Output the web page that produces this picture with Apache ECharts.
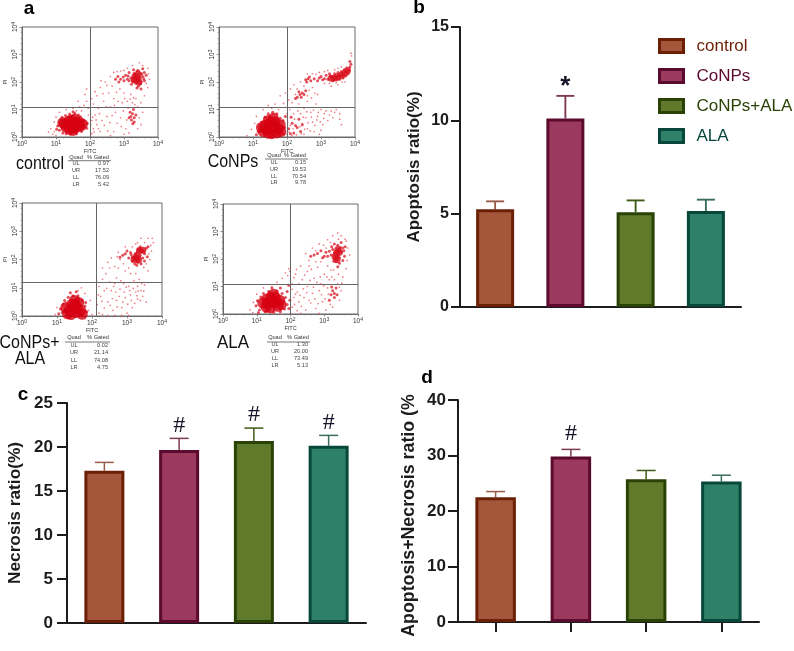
<!DOCTYPE html>
<html><head><meta charset="utf-8">
<script src="https://cdn.jsdelivr.net/npm/echarts@6/dist/echarts.min.js"></script>
<style>html,body{margin:0;padding:0;background:#fff}#c{width:794px;height:651px}</style>
</head><body><div id="c"></div>
<script>
// ---- bar chart data ----
const groups = ['control','CoNPs','CoNPs+ALA','ALA'];
const apoptosis = [5.23,10.1,5.07,5.14];
const apoptosisErr = [5.66,11.31,5.71,5.75];
const apoptosisMark = ['','*','',''];
const necrosis = [17.3,19.65,20.67,20.14];
const necrosisErr = [18.25,20.98,22.15,21.32];
const necrosisMark = ['','#','#','#'];
const both = [22.5,29.8,25.7,25.3];
const bothErr = [23.5,31.1,27.3,26.45];
const bothMark = ['','#','',''];
const fills = ['#a4573a','#9c395e','#5f7a2b','#2f8068'];
const borders = ['#6b1f05','#5c0a2e','#2a4204','#07483a'];
const errColors = ['#9a5a48','#7d3a52','#3e5a14','#3a6d5c'];
// ---- flow tables ----
const quads = ['UL','UR','LL','LR'];
const tableControl = ['0.97','17.52','76.09','5.42'];
const tableCoNPs = ['0.15','19.53','70.54','9.78'];
const tableCoNPsALA = ['0.02','21.14','74.08','4.75'];
const tableALA = ['1.30','20.00','73.49','5.13'];
// ---- flow gates (decades: FITC, PI) ----
const gateControl = [2.0,1.09];
const gateCoNPs = [2.0,1.09];
const gateCoNPsALA = [2.11,1.2];
const gateALA = [1.99,1.09];
// ---- flow events, in decades [FITC, PI] ----
const controlCore = [[1.49,.48],[1.35,.45],[1.6,.5],[1.5,.32],[1.45,.62],[1.3,.35],[1.62,.36],[1.55,.65],[1.38,.58],[1.68,.55],[1.25,.46],[1.5,.24],[1.7,.4],[1.4,.28],[1.2,.52],[1.78,.47]];
const controlHot = [[3.38,2.12],[3.44,2.0],[3.32,2.2],[3.42,2.28],[3.3,2.08]];
const controlMid = [[1.05,.4],[1.1,.25],[1.12,.55],[1.18,.72],[1.2,.15],[1.28,.78],[1.3,.12],[1.4,.84],[1.42,.1],[1.55,.86],[1.6,.12],[1.72,.74],[1.75,.2],[1.82,.58],[1.84,.4],[1.8,.28],[1.92,.5],[1.15,.64],[1.02,.28],[1.5,.92],[1.66,.8],[1.9,.32],
[3.4,2.1],[3.3,2.2],[3.45,2.3],[3.5,2.0],[3.35,1.95],[3.25,2.05],[3.55,2.2],[3.42,1.85],[3.38,2.4],[3.6,2.35],[3.2,2.15],[3.5,1.75],[3.3,2.32],[3.4,1.98],[3.48,2.15],[3.15,2.05],[3.6,2.05],[3.1,2.1],[3.0,2.05],[2.9,2.1],[2.85,2.0],[3.05,2.25],[3.15,2.35],[2.75,2.1],[3.65,2.25],[3.36,2.12],[3.44,2.05],[3.28,2.0],[3.33,2.28],[3.42,2.42],[3.52,2.3],[3.47,1.92],[3.38,1.78],[3.55,2.48],[3.28,2.45],[3.22,1.92],[3.36,2.05],[3.45,2.18],[3.32,2.12],[3.58,2.12],[3.12,2.22],[2.98,2.18],[2.82,2.2],
[3.25,.85],[3.3,.7],[3.2,.75],[3.28,1.0],[3.15,.7],[3.3,.55],[3.18,.9],[3.35,.8],[3.22,.62],[3.26,.48]];
const controlSparse = [[.85,.3],[.9,.1],[.95,.55],[1.0,.72],[.78,.18],[1.1,.9],[1.3,1.0],[1.5,1.05],[1.7,1.1],[1.75,.95],[1.9,1.3],[1.85,1.55],[1.95,1.05],[1.95,.8],[2.05,.6],[2.1,.3],[2.05,.12],[2.15,.8],[2.2,.45],[2.3,.2],[2.35,.6],[2.1,1.2],[2.2,1.5],[2.3,1.8],[2.4,1.3],[2.45,2.0],[2.55,1.6],[2.6,2.2],[2.6,1.1],[2.7,1.4],[2.75,.9],[2.8,.5],[2.7,.2],[2.9,.7],[2.95,1.25],[3.0,1.6],[3.05,.3],[3.1,1.3],[3.2,1.55],[3.25,1.25],[3.35,1.4],[3.4,1.1],[3.45,.7],[3.4,.3],[3.55,.9],[3.6,1.5],[3.7,1.8],[3.7,2.5],[3.55,2.6],[3.45,2.7],[3.25,2.6],[3.1,2.5],[2.9,2.4],[2.7,2.35],[3.75,2.1],[3.65,1.95],[2.5,.75],[2.25,1.05],[3.0,.1],[2.6,.05],[3.15,.15],
[2.02,.45],[2.08,.72],[2.12,.18],[2.18,.62],[2.25,.3],[2.28,.85],[2.42,.42],[2.48,1.1],[2.52,.22],[2.58,.52],[2.65,.78],[2.72,1.15],[2.78,1.62],[2.82,1.3],[2.88,1.75],[2.92,.38],[2.98,.95],[3.02,1.4],[3.08,.62],[3.12,1.05],[3.18,1.38],[3.28,1.42],[3.32,1.18],[3.5,1.25],[3.5,.45],[2.15,1.65],[2.05,1.4],[1.9,1.75],[1.65,1.3],[2.38,1.58],[2.5,1.88],[2.65,1.85],[2.8,2.38],[3.0,2.42],[3.72,2.3],[2.32,2.05],[1.82,1.15],[1.6,.95],[.95,.2],[1.0,.05]];

const conpsCore = [[1.58,.33],[1.4,.28],[1.75,.3],[1.5,.5],[1.65,.55],[1.3,.2],[1.55,.12],[1.8,.45],[1.35,.42],[1.7,.15],[1.45,.14],[1.6,.68],[1.25,.35],[1.45,.6],[1.82,.2]];
const conpsHot = [[3.4,2.15],[3.5,2.2],[3.6,2.25],[3.7,2.32],[3.3,2.14],[3.78,2.42]];
const conpsMid = [[1.15,.2],[1.2,.38],[1.25,.55],[1.1,.08],[1.35,.72],[1.8,.68],[1.88,.6],[1.93,.35],[1.9,.12],[1.45,.85],[1.7,.85],[2.05,.3],[2.15,.5],[2.2,.15],[2.3,.35],[2.35,.65],[2.4,.2],[1.58,.9],[1.95,.75],[2.1,.12],[2.25,.42],[2.45,.45],[2.12,.72],
[3.46,2.19],[3.3,2.15],[3.6,2.25],[3.7,2.35],[3.78,2.45],[3.85,2.55],[3.2,2.1],[3.4,2.3],[3.55,2.1],[3.1,2.12],[3.0,2.2],[3.5,2.35],[3.65,2.15],[3.8,2.3],[2.55,2.08],[2.62,2.12],[2.7,2.05],[2.8,2.12],[2.9,2.05],[3.25,2.3],[3.35,2.05],[3.85,2.75],[3.38,2.18],[3.52,2.22],[3.42,2.1],[3.6,2.38],[3.72,2.22],[3.82,2.42],[3.15,2.25],[3.05,2.08],[2.95,2.15],[2.58,2.0],[2.66,2.18],[3.28,2.22],[3.48,2.08],[3.68,2.45],[3.88,2.65],
[2.38,1.55],[2.45,1.6],[2.3,1.45],[2.5,1.55],[2.35,1.65],[2.55,1.68],[2.25,1.4],[2.42,1.45]];
const conpsSparse = [[.82,.05],[.95,.28],[1.05,.5],[1.1,.75],[1.3,1.0],[1.55,1.05],[1.75,1.0],[1.8,1.5],[1.95,1.6],[2.0,.85],[2.08,1.0],[2.15,1.25],[2.2,.85],[2.25,1.55],[2.3,1.75],[2.35,1.2],[2.4,.85],[2.45,.5],[2.5,1.05],[2.55,.7],[2.6,1.3],[2.6,.3],[2.65,1.7],[2.7,.9],[2.75,.55],[2.8,.2],[2.85,1.2],[2.9,.75],[3.0,1.0],[3.05,.45],[3.1,.85],[3.2,.6],[3.3,.95],[3.4,.9],[3.55,.85],[3.6,.45],[3.7,2.0],[3.5,1.9],[3.3,1.85],[3.1,1.95],[2.95,2.35],[2.75,2.3],[2.6,2.3],[3.6,2.55],[3.9,2.95],[3.88,3.05],[2.2,1.9],[2.1,1.75],[2.4,2.0],[2.5,1.85],[2.75,1.8],[2.9,1.55],[1.45,1.15],[1.65,1.2],[2.0,.1],[2.5,.1],[2.95,.1],[2.15,.05],[3.0,.25],
[2.02,.55],[2.06,.18],[2.1,.42],[2.18,.3],[2.22,.65],[2.28,.08],[2.32,.95],[2.38,.38],[2.42,.12],[2.48,.72],[2.52,.28],[2.58,.92],[2.62,.52],[2.68,.22],[2.72,.72],[2.78,.98],[2.82,.42],[2.88,.62],[2.92,.9],[2.98,.55],[3.08,.68],[3.15,.95],[3.25,.8],[3.35,.7],[3.45,1.0],[3.55,.65],[2.6,1.5],[2.72,1.42],[2.82,1.6],[3.2,2.42],[3.4,2.45],[3.5,2.5],[3.1,2.38],[2.85,2.28],[3.25,1.95],[3.45,1.98],[3.62,2.0],[3.75,2.55],[2.05,1.35],[1.9,1.22]];

const caCore = [[1.47,.26],[1.35,.2],[1.58,.3],[1.42,.42],[1.55,.12],[1.3,.08],[1.62,.48],[1.5,.55],[1.4,.05],[1.68,.2],[1.25,.3],[1.72,.06],[1.52,.4]];
const caHot = [[3.27,2.05],[3.2,2.0],[3.33,1.98],[3.36,2.32],[3.45,2.33],[3.28,2.14]];
const caMid = [[1.05,.08],[1.1,.25],[1.18,.42],[1.22,.55],[1.32,.66],[1.45,.72],[1.6,.72],[1.72,.55],[1.8,.35],[1.85,.15],[1.72,.02],[1.15,.12],[1.38,.82],[1.55,.86],[1.82,.48],
[3.27,2.05],[3.2,2.0],[3.3,1.9],[3.36,2.32],[3.45,2.33],[3.3,2.3],[3.25,2.2],[3.38,2.15],[3.15,2.1],[3.1,2.25],[3.45,2.05],[3.5,2.2],[3.4,1.85],[3.22,1.85],[3.55,2.4],[3.15,1.95],[3.05,2.05],[3.0,2.3],[2.95,2.2],[3.6,2.45],[3.33,1.98],[3.5,1.95],[3.38,2.45],[3.24,2.1],[3.3,2.02],[3.18,2.05],[3.42,2.28],[3.32,2.38],[3.28,1.8],[3.36,2.08],[3.48,2.28],[3.12,2.18],[2.88,2.15],[2.8,2.08],[3.58,2.1]];
const caSparse = [[.95,.05],[1.0,.3],[1.6,.9],[1.7,1.0],[1.8,.8],[1.95,.55],[1.9,.2],[2.0,.05],[2.2,.1],[2.15,.4],[2.25,.7],[2.2,1.05],[2.3,1.3],[2.35,.9],[2.3,.05],[2.45,.5],[2.5,1.2],[2.4,1.5],[2.5,1.7],[2.6,.2],[2.55,.9],[2.65,.02],[2.7,.55],[2.7,1.35],[2.75,1.7],[2.8,2.0],[2.8,.95],[2.85,.3],[2.9,1.15],[2.95,.65],[2.95,1.6],[3.0,.1],[3.05,1.05],[3.1,.75],[3.15,.3],[3.2,1.25],[3.25,.85],[3.3,.6],[3.3,1.05],[3.4,.9],[3.45,.7],[3.5,1.1],[3.55,.5],[3.6,1.6],[3.65,2.0],[3.7,2.3],[3.75,2.6],[3.72,2.75],[3.6,2.75],[3.4,2.75],[3.25,2.55],[2.75,2.25],[2.55,2.05],[2.45,1.9],[2.65,1.15],[3.1,1.5],[3.55,1.85],[2.85,.02],[3.05,.02],[2.45,.02],
[2.18,.75],[2.28,.52],[2.35,.28],[2.42,.98],[2.52,.38],[2.58,.62],[2.62,1.05],[2.68,.85],[2.72,.32],[2.78,.7],[2.82,1.25],[2.88,.5],[2.92,.85],[2.98,1.02],[3.02,.42],[3.08,.9],[3.12,.55],[3.18,.98],[3.22,.45],[3.28,.72],[3.32,.88],[3.38,.55],[3.42,1.15],[3.48,.88],[3.35,1.3],[3.25,1.5],[2.65,1.75],[2.9,1.85],[2.72,2.1],[3.05,1.7],[3.48,1.72],[3.62,2.2],[3.68,2.5],[3.5,2.6],[3.3,2.6],[3.15,2.45],[2.95,2.45],[2.3,1.7]];

const alaCore = [[1.44,.45],[1.3,.38],[1.55,.42],[1.42,.62],[1.55,.6],[1.28,.25],[1.4,.22],[1.62,.28],[1.68,.5],[1.18,.4],[1.5,.72],[1.3,.55],[1.72,.34]];
const alaHot = [[3.36,2.2],[3.4,2.35],[3.32,2.08],[3.45,2.25],[3.38,1.98]];
const alaMid = [[.98,.3],[1.02,.48],[1.08,.15],[1.12,.62],[1.2,.75],[1.35,.82],[1.6,.84],[1.75,.75],[1.85,.6],[1.9,.35],[1.82,.18],[1.7,.08],[1.5,.06],[1.25,.08],[1.9,.82],[1.95,1.05],[1.45,.95],[1.7,.95],[1.05,.05],[1.98,.5],[1.95,.2],
[3.36,2.2],[3.3,2.05],[3.4,2.35],[3.5,2.25],[3.45,2.05],[3.2,2.15],[3.35,1.9],[3.45,1.85],[3.55,2.4],[3.25,2.35],[3.1,2.1],[3.4,2.5],[3.3,2.55],[3.0,2.1],[2.9,2.3],[2.8,2.2],[3.6,2.1],[2.7,2.15],[3.55,1.95],[2.6,2.1],[3.32,2.25],[3.42,2.12],[3.48,2.42],[3.38,1.98],[3.28,1.92],[3.22,2.45],[3.15,2.28],[3.58,2.3],[3.5,2.6],[3.05,2.25],[2.95,2.05],[3.4,1.72],[3.62,2.45],
[3.2,.7],[3.25,.85],[3.3,.6],[3.35,.95],[3.15,.5],[3.3,.75],[3.38,.7],[3.22,.98]];
const alaSparse = [[.8,.15],[.88,.05],[.9,.42],[1.0,.72],[1.2,.95],[1.45,1.0],[1.6,1.15],[1.75,1.3],[1.85,1.5],[1.95,1.65],[2.0,1.2],[2.05,.9],[2.1,.6],[2.05,.25],[2.0,.02],[2.2,.12],[2.25,.45],[2.2,.8],[2.25,1.1],[2.15,1.45],[2.3,1.75],[2.35,1.25],[2.4,.6],[2.45,.15],[2.5,1.0],[2.5,1.55],[2.55,1.95],[2.6,.4],[2.65,.75],[2.7,1.3],[2.75,.2],[2.8,1.7],[2.85,.85],[2.9,1.1],[2.95,.45],[3.0,1.45],[3.05,.15],[3.1,.95],[3.15,1.25],[3.2,1.6],[3.3,1.25],[3.4,1.1],[3.45,.5],[3.5,.85],[3.55,1.35],[3.65,1.65],[3.7,2.4],[3.75,2.15],[3.65,2.65],[3.5,2.85],[3.25,2.85],[3.1,2.7],[3.4,2.95],[3.05,2.4],[2.85,2.55],[2.65,2.4],[2.45,2.2],[2.9,1.9],[2.3,.02],[2.85,.02],[3.25,.25],
[1.92,1.4],[1.98,1.55],[2.05,1.1],[2.1,1.32],[2.12,.35],[2.15,.72],[2.18,1.62],[2.28,.68],[2.32,.28],[2.38,.92],[2.42,1.42],[2.48,.78],[2.55,.5],[2.58,1.22],[2.62,1.62],[2.68,.98],[2.72,.55],[2.78,1.15],[2.82,.38],[2.88,1.35],[2.92,.7],[2.98,1.02],[3.02,.55],[3.08,1.35],[3.12,.72],[3.18,.35],[3.22,1.35],[3.45,.98],[3.52,1.12],[3.42,1.45],[3.28,1.6],[3.1,1.75],[2.75,1.9],[2.55,1.75],[2.75,2.3],[2.98,2.5],[3.18,2.6],[3.68,1.95],[3.62,2.72],[3.42,2.72]];

// ---- layout ----
const flowPanels = [
  {name:'control',box:[22,27,136,110],gate:gateControl,core:controlCore,hot:controlHot,mid:controlMid,sparse:controlSparse},
  {name:'CoNPs',box:[219,27,136,110],gate:gateCoNPs,core:conpsCore,hot:conpsHot,mid:conpsMid,sparse:conpsSparse},
  {name:'CoNPs+ALA',box:[22,203,140,113],gate:gateCoNPsALA,core:caCore,hot:caHot,mid:caMid,sparse:caSparse},
  {name:'ALA',box:[223,204,135,110],gate:gateALA,core:alaCore,hot:alaHot,mid:alaMid,sparse:alaSparse}
];
const barPanels = [
  {box:[460,27,281,280],max:15,interval:5,vals:apoptosis,errs:apoptosisErr,marks:apoptosisMark,barW:38,cap:9,fs:16,tick:9,lm:11,ticksX:false,
   title:'Apoptosis ratio(%)',gap:37,tfs:17,tpad:0,markFont:'bold 26px "Liberation Sans"',markOff:9,lw:2.5},
  {box:[67,403,299,220],max:25,interval:5,vals:necrosis,errs:necrosisErr,marks:necrosisMark,barW:40,cap:9.5,fs:17,tick:10,lm:14,ticksX:false,
   title:'Necrosis ratio(%)',gap:43,tfs:17.3,tpad:0,markFont:'24px "Liberation Serif"',markOff:13,lw:2},
  {box:[458,400,301,222],max:40,interval:10,vals:both,errs:bothErr,marks:bothMark,barW:40.5,cap:9.5,fs:17,tick:10,lm:12,ticksX:true,
   title:'Apoptosis+Necrosis ratio (%',gap:40,tfs:17.8,tpad:9,markFont:'24px "Liberation Serif"',markOff:16,lw:2}
];
const grids=[],xAxes=[],yAxes=[],series=[];
const ink='#1c1c1c';
const sup=(v)=>'{b|10}{s|'+v+'}';
const richFlow={b:{fontSize:6.5,fontFamily:'Liberation Sans',color:'#333'},s:{fontSize:5,fontFamily:'Liberation Sans',color:'#333',verticalAlign:'top',padding:[0,0,3,0]}};
flowPanels.forEach(p=>{
  const i=grids.length;
  grids.push({left:p.box[0],top:p.box[1],width:p.box[2],height:p.box[3],show:true,borderColor:'#6a6a6a',borderWidth:1,backgroundColor:'transparent'});
  const ax=(name,extra)=>Object.assign({type:'value',gridIndex:i,min:0,max:4,interval:1,splitLine:{show:false},
    axisLine:{show:true,lineStyle:{color:'#6a6a6a',width:1}},axisTick:{show:true,length:2.5,lineStyle:{color:'#666',width:.7}},
    minorTick:{show:true,splitNumber:5,length:1.5,lineStyle:{color:'#777',width:.5}},
    name:name,nameLocation:'middle',nameTextStyle:{fontSize:5.5,color:'#333',fontFamily:'Liberation Sans'}},extra);
  xAxes.push(ax('FITC',{nameGap:11,axisLabel:{formatter:sup,rich:richFlow,margin:3}}));
  yAxes.push(ax('PI',{nameGap:14,axisLabel:{formatter:sup,rich:richFlow,margin:3,rotate:90}}));
  const lay=(data,size,color,z)=>({type:'scatter',xAxisIndex:i,yAxisIndex:i,data:data,symbolSize:size,itemStyle:{color:color},silent:true,z:z,animation:false});
  series.push(Object.assign(lay(p.sparse,1.7,'#ec5a63',2),{markLine:{silent:true,symbol:'none',animation:false,label:{show:false},
    lineStyle:{color:'#666',width:1,type:'solid'},data:[{xAxis:p.gate[0]},{yAxis:p.gate[1]}]}}));
  series.push(lay(p.mid,3,'#dc2330',3));
  series.push(lay(p.hot,7,'#d8101e',3));
  series.push(lay(p.core,11,'#d60012',4));
});
barPanels.forEach((p,pi)=>{
  const i=grids.length;
  grids.push({left:p.box[0],top:p.box[1],width:p.box[2],height:p.box[3]});
  xAxes.push({type:'category',gridIndex:i,data:groups,axisLabel:{show:false},
    axisLine:{show:true,lineStyle:{color:ink,width:2}},
    axisTick:{show:p.ticksX,alignWithLabel:true,interval:0,length:10,lineStyle:{color:ink,width:2}}});
  yAxes.push({type:'value',gridIndex:i,min:0,max:p.max,interval:p.interval,splitLine:{show:false},
    axisLine:{show:true,lineStyle:{color:ink,width:2}},axisTick:{show:true,length:p.tick,lineStyle:{color:ink,width:2}},
    axisLabel:{fontFamily:'Liberation Sans',fontWeight:'bold',fontSize:p.fs,color:ink,margin:p.lm},
    name:p.title,nameLocation:'middle',nameGap:p.gap,nameRotate:90,
    nameTextStyle:{fontFamily:'Liberation Sans',fontWeight:'bold',fontSize:p.tfs,color:ink,padding:[0,p.tpad,0,0]}});
  groups.forEach((g,k)=>{
    series.push({type:'bar',name:g,xAxisIndex:i,yAxisIndex:i,barWidth:p.barW,barGap:'-100%',animation:false,
      data:groups.map((_,j)=>j===k?p.vals[k]:null),
      itemStyle:{color:fills[k],borderColor:borders[k],borderWidth:3},z:3});
  });
  series.push({type:'custom',xAxisIndex:i,yAxisIndex:i,silent:true,z:2,animation:false,
    data:groups.map((g,k)=>[k,p.vals[k],p.errs[k]]),
    encode:{x:0,y:[1,2]},
    renderItem:(params,api)=>{
      const k=api.value(0),a=api.coord([k,api.value(1)]),b=api.coord([k,api.value(2)]);
      const st={stroke:errColors[k],lineWidth:p.lw*.75,fill:null};
      const kids=[{type:'line',shape:{x1:a[0],y1:a[1],x2:a[0],y2:b[1]},style:st},
                  {type:'line',shape:{x1:a[0]-p.cap,y1:b[1],x2:a[0]+p.cap,y2:b[1]},style:st}];
      if(p.marks[k]) kids.push({type:'text',style:{text:p.marks[k],x:a[0],y:b[1]-p.markOff,textAlign:'center',textVerticalAlign:'middle',font:p.markFont,fill:'#141428'}});
      return {type:'group',children:kids};
    }});
});
// ---- text placed on the page ----
const graphic=[];
const txt=(text,x,y,font,fill,align,sy)=>graphic.push({type:'text',silent:true,x:x,y:y,scaleY:sy||1,style:{text:text,x:0,y:0,font:font,fill:fill||'#000',textAlign:align||'center',textVerticalAlign:'middle'}});
[['a',29,9],['b',419,8],['c',23,395],['d',427,378]].forEach(l=>txt(l[0],l[1],l[2],'bold 19px "Liberation Sans"','#000'));
const LAB='"Liberation Sans"';
txt('control',40,164,'16px '+LAB,'#111','center',1.15);
txt('CoNPs',233,162,'16px '+LAB,'#111','center',1.15);
txt('CoNPs+',29.5,343,'16px '+LAB,'#111','center',1.15);
txt('ALA',30,359,'16px '+LAB,'#111','center',1.15);
txt('ALA',233,343,'17px '+LAB,'#111','center',1.1);
const tables=[
 {vals:tableControl,q:76,g:98,r:109,hy:157,ly:160.7,l:[68,111],rows:[163,170,177,184]},
 {vals:tableCoNPs,q:274,g:295,r:306,hy:155,ly:159,l:[265,308],rows:[162,169,176,182.6]},
 {vals:tableCoNPsALA,q:74,g:98,r:108,hy:337,ly:342,l:[65,110],rows:[345,352,360,367]},
 {vals:tableALA,q:275,g:298,r:308,hy:337,ly:342,l:[267,310],rows:[344,351,358,365]}
];
tables.forEach(t=>{
  const f='5.6px '+LAB;
  txt('Quad',t.q,t.hy,f,'#333');
  txt('% Gated',t.g,t.hy,f,'#333');
  graphic.push({type:'line',silent:true,shape:{x1:t.l[0],y1:t.ly,x2:t.l[1],y2:t.ly},style:{stroke:'#555',lineWidth:.8}});
  quads.forEach((q,i)=>{txt(q,t.q,t.rows[i],f,'#444');txt(t.vals[i],t.r,t.rows[i],f,'#444','right');});
});
const chart=echarts.init(document.getElementById('c'),null,{renderer:'canvas'});
chart.setOption({
  animation:false,backgroundColor:'#fff',
  grid:grids,xAxis:xAxes,yAxis:yAxes,series:series,graphic:graphic,
  legend:{show:true,left:658,top:37.5,padding:0,orient:'vertical',itemWidth:24,itemHeight:13,itemGap:13,selectedMode:false,icon:'rect',
    data:groups.map((g,k)=>({name:g,itemStyle:{color:fills[k],borderColor:borders[k],borderWidth:3},
      textStyle:{color:borders[k],fontSize:17,fontFamily:'Liberation Sans',padding:[0,0,0,8]}}))}
});
</script></body></html>
